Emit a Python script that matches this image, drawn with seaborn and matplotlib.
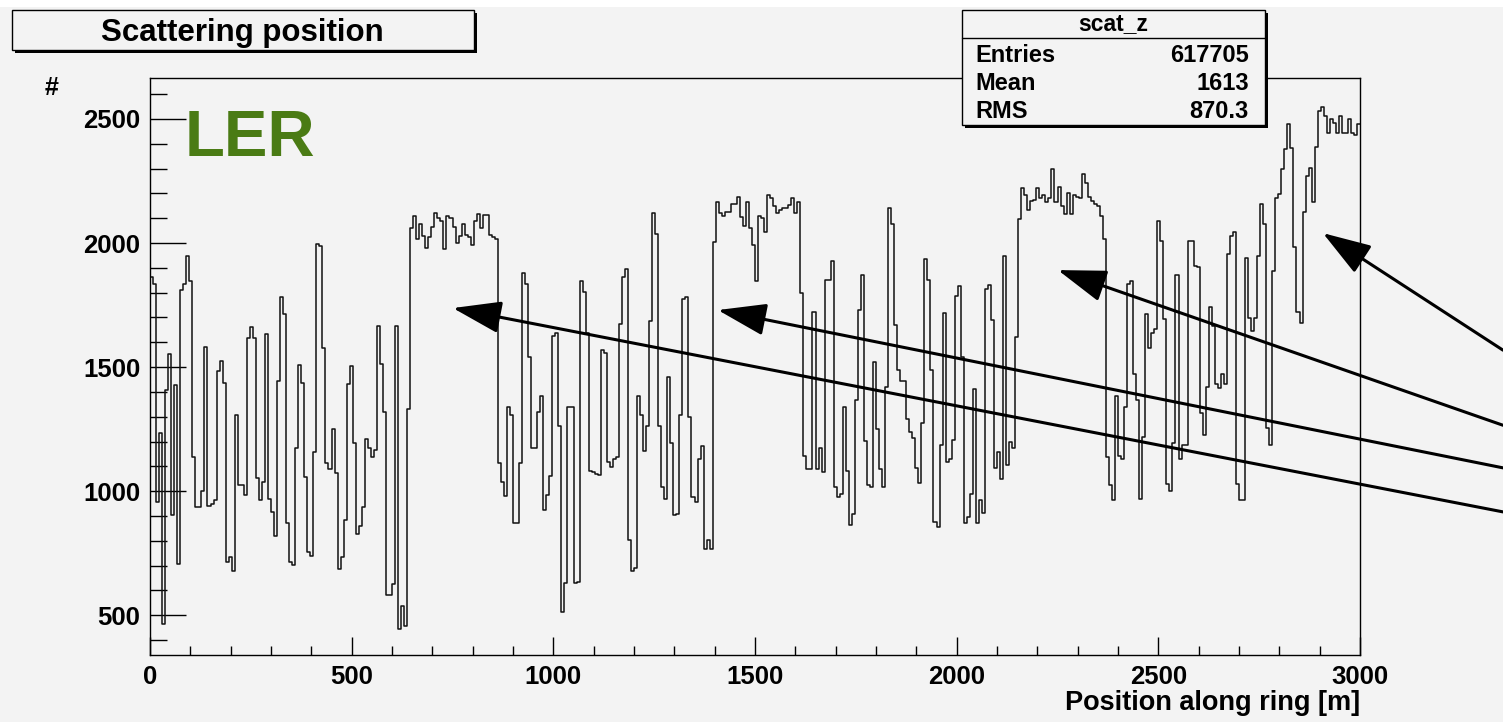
"""
Scattering position along the LER ring (ROOT-style step histogram)
"""
import numpy as np
import pandas as pd
import seaborn as sns
import matplotlib.pyplot as plt
from matplotlib.patches import Rectangle
from matplotlib.ticker import MultipleLocator

# histogram binning: 400 bins over the ring
x_min, x_max = 0, 3000
n_bins = 400

# counts per bin, 20 bins (150 m) per row
counts = [
    1864, 1834, 955, 1233, 464, 1409, 1553, 903, 1426, 707, 1812, 1834, 1947, 1846, 1136, 937, 937, 1000, 1583, 940,
    948, 963, 1486, 1523, 1436, 715, 733, 677, 1307, 1027, 1027, 985, 1616, 1662, 1619, 1053, 963, 1038, 1635, 970,
    918, 820, 1444, 1782, 1714, 873, 715, 704, 1173, 1507, 1435, 1056, 755, 737, 1158, 1997, 1989, 1579, 1113, 1091,
    1251, 1073, 685, 734, 883, 1432, 1505, 1196, 828, 858, 937, 1211, 1173, 1139, 1166, 1665, 1511, 1319, 580, 580,
    625, 1665, 444, 538, 456, 1331, 2060, 2108, 2015, 2075, 2030, 1980, 2025, 2063, 2120, 2102, 2090, 1974, 2108, 2100,
    2063, 2000, 2030, 2075, 2033, 2025, 1992, 2090, 2117, 2060, 2112, 2112, 2033, 2025, 2015, 1113, 1038, 981, 1338, 1308,
    873, 873, 1113, 1879, 1834, 1541, 1173, 1173, 1319, 1384, 925, 985, 1061, 1624, 1639, 1263, 512, 632, 1338, 1338,
    632, 636, 1849, 1804, 1639, 1083, 1076, 1070, 1065, 1571, 1556, 1119, 1098, 1128, 1136, 1672, 1864, 1897, 805, 677,
    692, 1384, 1306, 1161, 1263, 1684, 2120, 2037, 1263, 1016, 970, 1462, 1196, 903, 907, 1308, 1774, 1782, 1301, 978,
    958, 1131, 1184, 768, 805, 768, 2004, 2165, 2123, 2108, 2127, 2127, 2157, 2157, 2187, 2105, 2070, 2165, 2060, 1992,
    1849, 2108, 2100, 2045, 2195, 2180, 2150, 2120, 2132, 2142, 2142, 2153, 2180, 2120, 2165, 1800, 1143, 1091, 1091, 1722,
    1091, 1176, 1079, 1852, 1852, 1929, 1015, 978, 990, 1338, 1083, 865, 910, 1369, 1729, 1872, 1203, 1023, 1015, 1519,
    1251, 1091, 1015, 1421, 2142, 2075, 1669, 1489, 1445, 1445, 1289, 1240, 1213, 1092, 1032, 1276, 1935, 1850, 1488, 877,
    857, 1186, 1720, 1119, 1128, 1206, 1787, 1826, 1539, 870, 897, 987, 1411, 870, 964, 911, 1813, 1830, 1689, 1092,
    1159, 1049, 1947, 1105, 1197, 1173, 1622, 2096, 2220, 2193, 2132, 2170, 2175, 2220, 2180, 2192, 2165, 2183, 2297, 2165,
    2225, 2150, 2117, 2202, 2117, 2192, 2187, 2180, 2278, 2240, 2187, 2168, 2157, 2150, 2108, 2015, 1136, 1023, 963, 1384,
    1140, 1128, 1338, 1834, 1849, 1474, 1369, 970, 1218, 1714, 1579, 1639, 1654, 2090, 2007, 1692, 1030, 1000, 1196, 1872,
    1128, 1188, 1188, 2007, 2007, 1909, 1902, 1316, 1226, 1421, 1741, 1667, 1432, 1414, 1474, 1432, 1955, 2030, 2045, 1030,
    963, 963, 1940, 1699, 1647, 1699, 1947, 2157, 2075, 1256, 1188, 1887, 2180, 2198, 2300, 2378, 2480, 2383, 1985, 1722,
    1677, 2127, 2270, 2303, 2165, 2386, 2533, 2548, 2510, 2443, 2498, 2483, 2443, 2510, 2443, 2443, 2498, 2443, 2435, 2480,
]

# stats box
stats_name = "scat_z"
stats_labels = ["Entries", "Mean", "RMS"]
stats_values = ["617705", "1613", "870.3"]

# arrows: tips in data coords, tails on the right edge of the canvas
arrow_tip_x = [751, 1408, 2251, 2908]
arrow_tip_y = [1738, 1730, 1891, 2040]
arrow_tail_y = [0.291, 0.352, 0.411, 0.515]

W, H = 1503, 722
BG = "#f3f3f3"


def fx(px):
    return px / W


def fy(py):
    return 1 - py / H


def draw_box(fig, x0, y0, x1, y1):
    """ROOT-like pave with a drop shadow (pixel coords, y from top)"""
    fig.add_artist(Rectangle((fx(x0 + 3), fy(y1 + 3)), fx(x1 - x0), (y1 - y0) / H,
                             transform=fig.transFigure, facecolor="black",
                             edgecolor="none", zorder=5))
    fig.add_artist(Rectangle((fx(x0), fy(y1)), fx(x1 - x0), (y1 - y0) / H,
                             transform=fig.transFigure, facecolor=BG,
                             edgecolor="black", linewidth=1.0, zorder=6))


sns.set_theme(style="ticks")
plt.rcParams["font.family"] = ["Liberation Sans", "DejaVu Sans"]
plt.rcParams["font.weight"] = "bold"
plt.rcParams["text.color"] = "black"

fig = plt.figure(figsize=(W / 100, H / 100), dpi=100, facecolor=BG)
ax = fig.add_axes([fx(150), fy(655), fx(1210), 577 / H])
ax.set_facecolor(BG)

width = (x_max - x_min) / n_bins
centers = x_min + width * (np.arange(n_bins) + 0.5)
df = pd.DataFrame({"z": centers, "n": counts})
sns.histplot(data=df, x="z", weights="n", bins=n_bins, binrange=(x_min, x_max),
             element="step", fill=False, color="#111111", linewidth=1.1, ax=ax)

ax.set_xlim(x_min, x_max)
ax.set_ylim(340, 2665)
ax.set_xlabel("")
ax.set_ylabel("")
ax.xaxis.set_major_locator(MultipleLocator(500))
ax.xaxis.set_minor_locator(MultipleLocator(100))
ax.yaxis.set_major_locator(MultipleLocator(500))
ax.yaxis.set_minor_locator(MultipleLocator(100))
ax.tick_params(axis="both", which="both", direction="in", color="black",
               width=1.0, labelsize=18.5, labelcolor="black")
ax.tick_params(axis="y", which="major", length=26, pad=7)
ax.tick_params(axis="y", which="minor", length=12.5)
ax.tick_params(axis="x", which="major", length=13, pad=7)
ax.tick_params(axis="x", which="minor", length=6.5)
for lab in ax.get_xticklabels() + ax.get_yticklabels():
    lab.set_fontweight("bold")
for sp in ax.spines.values():
    sp.set_visible(True)
    sp.set_color("black")
    sp.set_linewidth(1.0)

# axis titles
fig.text(fx(1360), fy(703), "Position along ring [m]", ha="right", va="center",
         fontsize=19.5, fontweight="bold", color="black")
fig.text(fx(52), fy(88), "#", ha="center", va="center", fontsize=18,
         fontweight="bold", color="black")

# LER label
ax.text(fx(185), fy(139), "LER", transform=fig.transFigure, ha="left",
        va="center", fontsize=47, fontweight="bold", color="#4a7b14")

# title pave
draw_box(fig, 12, 10, 474, 50)
fig.text(fx(242), fy(33), "Scattering position", ha="center", va="center",
         fontsize=22.5, fontweight="bold", color="black", zorder=7)

# stats pave
draw_box(fig, 962, 10, 1265, 125)
fig.add_artist(plt.Line2D([fx(962), fx(1265)], [fy(38), fy(38)],
                          transform=fig.transFigure, color="black",
                          linewidth=1.0, zorder=7))
fig.text(fx(1113), fy(24), stats_name, ha="center", va="center",
         fontsize=16.5, fontweight="bold", color="black", zorder=7)
for i, (lab, val) in enumerate(zip(stats_labels, stats_values)):
    yy = fy(56 + 27.5 * i)
    fig.text(fx(975), yy, lab, ha="left", va="center", fontsize=17,
             fontweight="bold", color="black", zorder=7)
    fig.text(fx(1249), yy, val, ha="right", va="center", fontsize=17,
             fontweight="bold", color="black", zorder=7)

# arrows pointing at the plateaus
for tx, ty, tail in zip(arrow_tip_x, arrow_tip_y, arrow_tail_y):
    ax.annotate("", xy=(tx, ty), xycoords="data",
                xytext=(1.0, tail), textcoords="figure fraction",
                arrowprops=dict(arrowstyle="-|>,head_length=1.5,head_width=0.5",
                                mutation_scale=20, lw=2.2, color="black",
                                shrinkA=0, shrinkB=0),
                annotation_clip=False, zorder=8)

# white strip along the top edge
fig.add_artist(Rectangle((0, fy(7)), 1, 7 / H, transform=fig.transFigure,
                         facecolor="white", edgecolor="none", zorder=0))

fig.savefig("out.png", dpi=100, facecolor=BG)
